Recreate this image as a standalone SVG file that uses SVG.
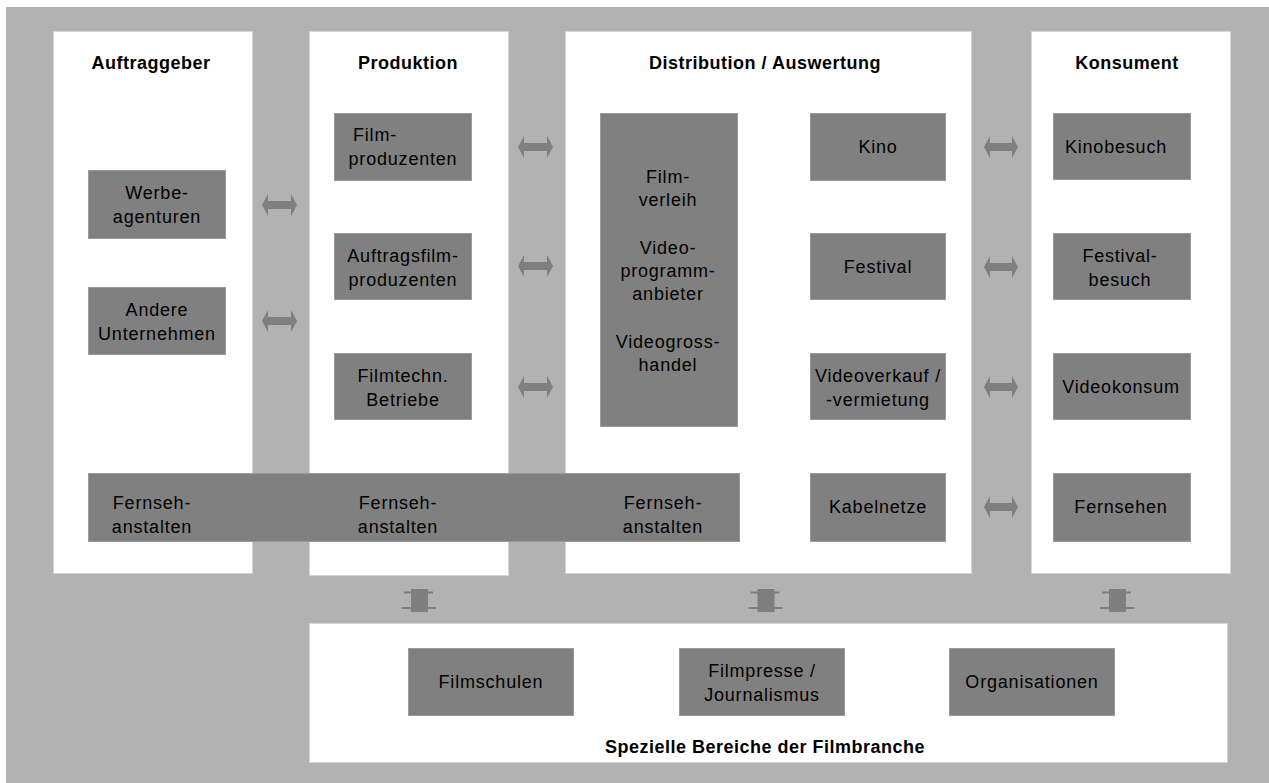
<svg xmlns="http://www.w3.org/2000/svg" width="1269" height="783" viewBox="0 0 1269 783">
<style>
.panel{fill:#ffffff;stroke:#d4d4d4;stroke-width:1}
.box{fill:#808080;stroke:#9a9a9a;stroke-width:1}
.arr{fill:#7f7f7f}
text{font-family:"Liberation Sans",Arial,sans-serif;fill:#000}
.h{font-size:18px;font-weight:bold;letter-spacing:0.5px;text-anchor:middle}
.t{font-size:18px;letter-spacing:0.8px;text-anchor:middle}
</style>
<rect x="0" y="0" width="1269" height="783" fill="#ffffff"/>
<rect x="6" y="7" width="1263" height="776" fill="#b2b2b2"/>

<g id="panel-auftraggeber">
<rect class="panel" x="53.5" y="31.5" width="199" height="542"/>
<text class="h" x="151" y="69">Auftraggeber</text>
</g>
<g id="panel-produktion">
<rect class="panel" x="309.5" y="31.5" width="199" height="544"/>
<text class="h" x="408" y="69">Produktion</text>
</g>
<g id="panel-distribution">
<rect class="panel" x="565.5" y="31.5" width="406" height="542"/>
<text class="h" x="765" y="69">Distribution / Auswertung</text>
</g>
<g id="panel-konsument">
<rect class="panel" x="1031.5" y="31.5" width="199" height="542"/>
<text class="h" x="1127" y="69">Konsument</text>
</g>
<g id="panel-spezielle">
<rect class="panel" x="309.5" y="623.5" width="918" height="139"/>
<text class="h" x="765" y="753">Spezielle Bereiche der Filmbranche</text>
</g>

<g id="connectors">
<polygon class="arr" points="262,205 268,194 268,201 291,201 291,194 297,205 291,216 291,209 268,209 268,216"/>
<polygon class="arr" points="262,321 268,310 268,317 291,317 291,310 297,321 291,332 291,325 268,325 268,332"/>
<polygon class="arr" points="518,147 524,136 524,143 547,143 547,136 553,147 547,158 547,151 524,151 524,158"/>
<polygon class="arr" points="518,266 524,255 524,262 547,262 547,255 553,266 547,277 547,270 524,270 524,277"/>
<polygon class="arr" points="518,387 524,376 524,383 547,383 547,376 553,387 547,398 547,391 524,391 524,398"/>
<polygon class="arr" points="984,147 990,136 990,143 1012,143 1012,136 1018,147 1012,158 1012,151 990,151 990,158"/>
<polygon class="arr" points="984,267 990,256 990,263 1012,263 1012,256 1018,267 1012,278 1012,271 990,271 990,278"/>
<polygon class="arr" points="984,387 990,376 990,383 1012,383 1012,376 1018,387 1012,398 1012,391 990,391 990,398"/>
<polygon class="arr" points="984,507 990,496 990,503 1012,503 1012,496 1018,507 1012,518 1012,511 990,511 990,518"/>
<g class="arr">
<rect x="411" y="589" width="17" height="23"/>
<rect x="404" y="591.5" width="29" height="2"/>
<rect x="402" y="607" width="34" height="2"/>
<rect x="757.5" y="589" width="17" height="23"/>
<rect x="750.5" y="591.5" width="29" height="2"/>
<rect x="748.5" y="607" width="34" height="2"/>
<rect x="1109" y="589" width="17" height="23"/>
<rect x="1102" y="591.5" width="29" height="2"/>
<rect x="1100" y="607" width="34" height="2"/>
</g>
</g>

<g id="fernsehanstalten">
<rect class="box" x="88.5" y="473.5" width="651" height="68"/>
<text class="t" x="152" y="509">Fernseh-<tspan x="152" dy="24">anstalten</tspan></text>
<text class="t" x="398" y="509">Fernseh-<tspan x="398" dy="24">anstalten</tspan></text>
<text class="t" x="663" y="509">Fernseh-<tspan x="663" dy="24">anstalten</tspan></text>
</g>

<g id="werbeagenturen">
<rect class="box" x="88.5" y="170.5" width="137" height="68"/>
<text class="t" x="157" y="199">Werbe-<tspan x="157" dy="24">agenturen</tspan></text>
</g>
<g id="andere-unternehmen">
<rect class="box" x="88.5" y="287.5" width="137" height="67"/>
<text class="t" x="157" y="316">Andere<tspan x="157" dy="24">Unternehmen</tspan></text>
</g>

<g id="filmproduzenten">
<rect class="box" x="334.5" y="113.5" width="137" height="67"/>
<text class="t" x="375" y="141">Film-</text>
<text class="t" x="403" y="165">produzenten</text>
</g>
<g id="auftragsfilmproduzenten">
<rect class="box" x="334.5" y="233.5" width="137" height="66"/>
<text class="t" x="403" y="262">Auftragsfilm-<tspan x="403" dy="24">produzenten</tspan></text>
</g>
<g id="filmtechn-betriebe">
<rect class="box" x="334.5" y="353.5" width="137" height="66"/>
<text class="t" x="403" y="382">Filmtechn.<tspan x="403" dy="24">Betriebe</tspan></text>
</g>

<g id="verleih">
<rect class="box" x="600.5" y="113.5" width="137" height="313"/>
<text class="t" x="668" y="183">Film-<tspan x="668" dy="23">verleih</tspan><tspan x="668" dy="48">Video-</tspan><tspan x="668" dy="23">programm-</tspan><tspan x="668" dy="23">anbieter</tspan><tspan x="668" dy="48">Videogross-</tspan><tspan x="668" dy="23">handel</tspan></text>
</g>

<g id="kino">
<rect class="box" x="810.5" y="113.5" width="135" height="67"/>
<text class="t" x="878" y="153">Kino</text>
</g>
<g id="festival">
<rect class="box" x="810.5" y="233.5" width="135" height="66"/>
<text class="t" x="878" y="273">Festival</text>
</g>
<g id="videoverkauf">
<rect class="box" x="810.5" y="353.5" width="135" height="66"/>
<text class="t" x="878" y="382">Videoverkauf /<tspan x="878" dy="24">-vermietung</tspan></text>
</g>
<g id="kabelnetze">
<rect class="box" x="810.5" y="473.5" width="135" height="68"/>
<text class="t" x="878" y="513">Kabelnetze</text>
</g>

<g id="kinobesuch">
<rect class="box" x="1053.5" y="113.5" width="137" height="66"/>
<text class="t" x="1116" y="153">Kinobesuch</text>
</g>
<g id="festivalbesuch">
<rect class="box" x="1053.5" y="233.5" width="137" height="66"/>
<text class="t" x="1120" y="262">Festival-<tspan x="1120" dy="24">besuch</tspan></text>
</g>
<g id="videokonsum">
<rect class="box" x="1053.5" y="353.5" width="137" height="66"/>
<text class="t" x="1121" y="393">Videokonsum</text>
</g>
<g id="fernsehen">
<rect class="box" x="1053.5" y="473.5" width="137" height="68"/>
<text class="t" x="1121" y="513">Fernsehen</text>
</g>

<g id="filmschulen">
<rect class="box" x="408.5" y="648.5" width="165" height="67"/>
<text class="t" x="491" y="688">Filmschulen</text>
</g>
<g id="filmpresse">
<rect class="box" x="679.5" y="648.5" width="165" height="67"/>
<text class="t" x="762" y="677">Filmpresse /<tspan x="762" dy="24">Journalismus</tspan></text>
</g>
<g id="organisationen">
<rect class="box" x="949.5" y="648.5" width="165" height="67"/>
<text class="t" x="1032" y="688">Organisationen</text>
</g>
</svg>
